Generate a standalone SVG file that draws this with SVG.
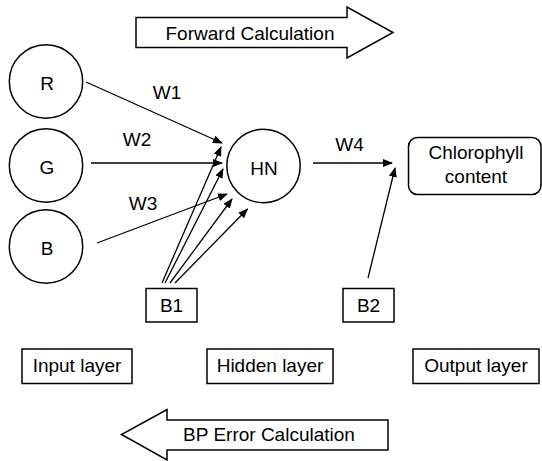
<svg xmlns="http://www.w3.org/2000/svg" width="542" height="461" viewBox="0 0 542 461">
<defs>
<style>
.s{fill:#fff;stroke:#000;stroke-width:1.5}
.t{font-family:"Liberation Sans",Arial,sans-serif;font-size:19px;fill:#000;text-anchor:middle}
.c{stroke:#000;stroke-width:1.3;fill:none;marker-end:url(#ah)}
</style>
<marker id="ah" markerUnits="userSpaceOnUse" markerWidth="10" markerHeight="8" refX="9" refY="4" orient="auto">
<path d="M0,0 L10,4 L0,8 Z" fill="#000"/>
</marker>
</defs>
<rect width="542" height="461" fill="#fff"/>
<g id="forward">
<path class="s" d="M136,17.5 H347 V7 L393,32.5 L347,58 V47.5 H136 Z"/>
<text class="t" x="250" y="39.5">Forward Calculation</text>
</g>
<g id="bp">
<path class="s" d="M388,420 H167 V409.5 L121.5,434.5 L167,460 V450 H388 Z"/>
<text class="t" x="269" y="441">BP Error Calculation</text>
</g>
<g id="R"><circle class="s" cx="46" cy="81.5" r="36.7"/><text class="t" x="47" y="90">R</text></g>
<g id="G"><circle class="s" cx="46" cy="165.5" r="36.7"/><text class="t" x="47" y="174">G</text></g>
<g id="B"><circle class="s" cx="46" cy="246.5" r="36.7"/><text class="t" x="47" y="255">B</text></g>
<g id="HN"><circle class="s" cx="263.5" cy="166" r="36.7"/><text class="t" x="264" y="175">HN</text></g>
<g id="out"><rect class="s" x="408.5" y="137.5" width="132.5" height="57" rx="9"/>
<text class="t" x="476" y="159">Chlorophyll</text><text class="t" x="476" y="183">content</text></g>
<g id="B1"><rect class="s" x="146" y="288.5" width="51" height="33.5"/><text class="t" x="171.5" y="312">B1</text></g>
<g id="B2"><rect class="s" x="343" y="288.5" width="51" height="33.5"/><text class="t" x="368.5" y="312">B2</text></g>
<g id="input"><rect class="s" x="22" y="349" width="110" height="34.5"/><text class="t" x="77" y="372">Input layer</text></g>
<g id="hidden"><rect class="s" x="207" y="349" width="126" height="34.5"/><text class="t" x="270" y="372">Hidden layer</text></g>
<g id="output"><rect class="s" x="413" y="349" width="126" height="34.5"/><text class="t" x="476" y="372">Output layer</text></g>
<g id="connectors">
<line class="c" x1="86" y1="82" x2="222" y2="143"/>
<line class="c" x1="91" y1="163" x2="222" y2="163"/>
<line class="c" x1="97" y1="243" x2="227" y2="194"/>
<line class="c" x1="162" y1="283" x2="221" y2="147"/>
<line class="c" x1="165" y1="283" x2="223" y2="169"/>
<line class="c" x1="170" y1="283" x2="232" y2="199"/>
<line class="c" x1="175" y1="283" x2="247.5" y2="209"/>
<line class="c" x1="313" y1="163" x2="392" y2="163"/>
<line class="c" x1="368" y1="278" x2="395" y2="168"/>
<text class="t" x="167" y="99">W1</text>
<text class="t" x="137" y="146">W2</text>
<text class="t" x="143" y="210">W3</text>
<text class="t" x="349.5" y="151">W4</text>
</g>
</svg>
